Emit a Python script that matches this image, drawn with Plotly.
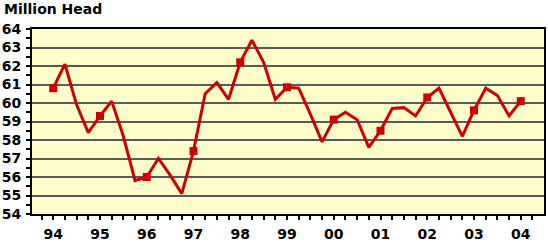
import plotly.graph_objects as go

years = [1994, 1995, 1996, 1997, 1998, 1999, 2000, 2001, 2002, 2003, 2004]
year_labels = ["94", "95", "96", "97", "98", "99", "00", "01", "02", "03", "04"]
# quarterly inventory values, 1994 Q1 .. 2004 Q1
values = [
    60.8, 62.1, 59.9, 58.4,
    59.3, 60.1, 58.2, 55.8,
    56.0, 57.0, 56.1, 55.1,
    57.4, 60.5, 61.1, 60.2,
    62.2, 63.4, 62.2, 60.2,
    60.85, 60.8, 59.4, 57.9,
    59.1, 59.5, 59.1, 57.6,
    58.5, 59.7, 59.75, 59.3,
    60.3, 60.8, 59.5, 58.2,
    59.6, 60.8, 60.4, 59.3,
    60.1,
]
x_vals = [years[0] + i * 0.25 for i in range(len(values))]
marker_x = [x for x in x_vals if abs(x - round(x)) < 1e-9]
marker_y = [v for x, v in zip(x_vals, values) if abs(x - round(x)) < 1e-9]

RED = "#CC0000"
FONT = "DejaVu Sans"

fig = go.Figure()
fig.add_trace(go.Scatter(x=x_vals, y=values, mode="lines",
                         line=dict(color=RED, width=3), hoverinfo="skip"))
fig.add_trace(go.Scatter(x=marker_x, y=marker_y, mode="markers",
                         marker=dict(symbol="square", size=8, color=RED,
                                     line=dict(width=0)), hoverinfo="skip"))

fig.update_layout(
    width=548, height=244,
    margin=dict(l=32, r=2, t=29, b=25),
    paper_bgcolor="white",
    plot_bgcolor="#FFFFCC",
    showlegend=False,
    font=dict(family=FONT, size=14, color="black"),
    annotations=[dict(text="<b>Million Head</b>", xref="paper", yref="paper",
                      x=-30/514, y=1 + 21/190, xanchor="left", yanchor="middle",
                      showarrow=False, font=dict(family=FONT, size=14, color="black"))],
)
fig.update_xaxes(
    range=[1993.546, 2004.497],
    tickmode="array", tickvals=years,
    ticktext=["<b>%s</b>" % t for t in year_labels],
    ticks="", showgrid=False, zeroline=False,
    showline=True, linecolor="black", linewidth=2, mirror=True,
    minor=dict(ticks="outside", ticklen=4, tickcolor="black", tickwidth=1.5,
               dtick=0.25, tick0=1994, showgrid=False),
    tickfont=dict(family=FONT, size=14, color="black"),
    ticklabelstandoff=6,
)
fig.update_yaxes(
    range=[54, 64], dtick=1, tick0=54,
    tickvals=list(range(54, 65)),
    ticktext=["<b>%d</b>" % v for v in range(54, 65)],
    ticks="outside", ticklen=4, tickcolor="black", tickwidth=1.5,
    showgrid=True, gridcolor="#5A5A5A", gridwidth=2, zeroline=False,
    showline=True, linecolor="black", linewidth=2, mirror=True,
    minor=dict(ticks="outside", ticklen=4, tickcolor="black", tickwidth=1.5,
               dtick=0.5, tick0=54, showgrid=False),
    tickfont=dict(family=FONT, size=14, color="black"),
    ticklabelstandoff=2,
)

fig.write_html("out.html")
